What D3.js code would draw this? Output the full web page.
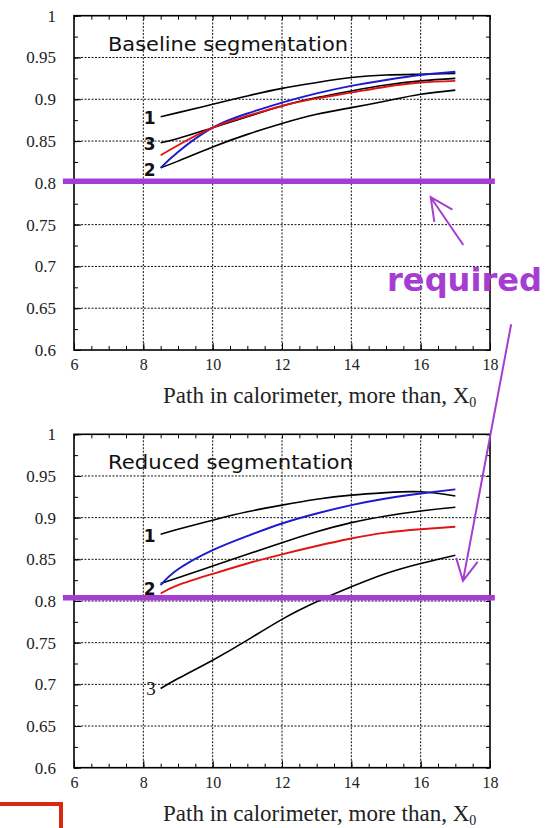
<!DOCTYPE html>
<html>
<head>
<meta charset="utf-8">
<script src="https://cdn.jsdelivr.net/npm/d3@7"></script>
<style>
body { margin: 0; background: #fff; }
svg { display: block; }
</style>
</head>
<body>
<div class="chart"></div>
<script>
var svgWidth = 548;
var svgHeight = 828;

// path in calorimeter, X0 (where each curve is sampled)
var pathX = [8.5, 9, 10, 11, 12, 13, 14, 15, 16, 17];

// Baseline segmentation
var baseBlack1 = [0.879, 0.884, 0.894, 0.904, 0.913, 0.920, 0.926, 0.929, 0.930, 0.931];
var baseBlack3 = [0.848, 0.853, 0.866, 0.879, 0.892, 0.902, 0.910, 0.917, 0.922, 0.925];
var baseBlack2 = [0.818, 0.826, 0.843, 0.858, 0.871, 0.882, 0.890, 0.898, 0.906, 0.911];
var baseBlue = [0.818, 0.837, 0.866, 0.883, 0.896, 0.907, 0.916, 0.923, 0.929, 0.933];
var baseRed = [0.833, 0.845, 0.866, 0.880, 0.892, 0.901, 0.908, 0.915, 0.920, 0.922];

// Reduced segmentation
var redBlack1 = [0.880, 0.886, 0.897, 0.907, 0.915, 0.922, 0.927, 0.930, 0.931, 0.926];
var redBlack2 = [0.821, 0.828, 0.842, 0.856, 0.870, 0.883, 0.894, 0.902, 0.908, 0.9125];
var redBlack3 = [0.695, 0.707, 0.729, 0.753, 0.778, 0.799, 0.817, 0.833, 0.845, 0.855];
var redBlue = [0.819, 0.838, 0.861, 0.878, 0.893, 0.905, 0.915, 0.923, 0.929, 0.934];
var redRed = [0.809, 0.819, 0.8325, 0.845, 0.856, 0.866, 0.875, 0.882, 0.886, 0.889];

var xTicks = [6, 8, 10, 12, 14, 16, 18];
var xTickLabels = ["6", "8", "10", "12", "14", "16", "18"];
var yTicks = [0.6, 0.65, 0.7, 0.75, 0.8, 0.85, 0.9, 0.95, 1];
var yTickLabels = ["0.6", "0.65", "0.7", "0.75", "0.8", "0.85", "0.9", "0.95", "1"];
var panelTitles = ["Baseline segmentation", "Reduced segmentation"];
var xLabel = "Path in calorimeter, more than, X";
var requiredLevel = [0.802, 0.804];
var requiredSpan = [5.68, 18.14];

var purple = "#a63dd2";

var svg = d3.select(".chart")
  .append("svg")
  .attr("width", svgWidth)
  .attr("height", svgHeight);

var x = d3.scaleLinear().domain([6, 18]).range([74, 490]);

var panels = [
  {
    top: 15.7, bottom: 350, title: panelTitles[0],
    series: [
      {values: baseBlack1, color: "#000", label: "1", dy: 1},
      {values: baseBlack3, color: "#000", label: "3", dy: 1},
      {values: baseBlack2, color: "#000", label: "2", dy: 2},
      {values: baseBlue, color: "#1a1ad0"},
      {values: baseRed, color: "#e01414"}
    ]
  },
  {
    top: 434.3, bottom: 767.7, title: panelTitles[1],
    series: [
      {values: redBlack1, color: "#000", label: "1", dy: 2},
      {values: redBlack2, color: "#000", label: "2", dy: 5},
      {values: redBlack3, color: "#000", label: "3", dy: 0, serif: true},
      {values: redBlue, color: "#1a1ad0"},
      {values: redRed, color: "#e01414"}
    ]
  }
];

var minorX = d3.range(6, 18.01, 0.5);
var minorY = d3.range(0.6, 1.001, 0.025);

function noDomain(g) { g.select(".domain").remove(); }

panels.forEach(function(p, i) {
  var y = d3.scaleLinear().domain([0.6, 1]).range([p.bottom, p.top]);
  p.y = y;
  var g = svg.append("g");

  // dotted grid
  g.append("g").selectAll("line")
    .data(xTicks.slice(1, -1))
    .enter().append("line")
    .attr("x1", d => x(d)).attr("x2", d => x(d))
    .attr("y1", y(0.6)).attr("y2", y(1))
    .attr("stroke", "#111").attr("stroke-width", 1)
    .attr("stroke-dasharray", "2,1.5");

  g.append("g").selectAll("line")
    .data(yTicks.slice(1, -1))
    .enter().append("line")
    .attr("x1", x(6)).attr("x2", x(18))
    .attr("y1", d => y(d)).attr("y2", d => y(d))
    .attr("stroke", "#111").attr("stroke-width", 1)
    .attr("stroke-dasharray", "2,1.5");

  // minor ticks, all four sides, pointing inward
  g.append("g")
    .attr("transform", `translate(0, ${y(0.6)})`)
    .call(d3.axisBottom(x).tickValues(minorX).tickSize(-4).tickFormat(""))
    .call(noDomain);
  g.append("g")
    .attr("transform", `translate(0, ${y(1)})`)
    .call(d3.axisTop(x).tickValues(minorX).tickSize(-4).tickFormat(""))
    .call(noDomain);
  g.append("g")
    .attr("transform", `translate(${x(6)}, 0)`)
    .call(d3.axisLeft(y).tickValues(minorY).tickSize(-4).tickFormat(""))
    .call(noDomain);
  g.append("g")
    .attr("transform", `translate(${x(18)}, 0)`)
    .call(d3.axisRight(y).tickValues(minorY).tickSize(-4).tickFormat(""))
    .call(noDomain);

  // labelled axes
  var xAxis = g.append("g")
    .attr("transform", `translate(0, ${y(0.6)})`)
    .call(d3.axisBottom(x).tickValues(xTicks).tickSize(-7).tickPadding(9)
      .tickFormat((d, k) => xTickLabels[k]))
    .call(noDomain);
  xAxis.selectAll("text")
    .attr("font-family", "Liberation Serif, serif")
    .attr("font-size", 16)
    .attr("fill", "#222");

  var yAxis = g.append("g")
    .attr("transform", `translate(${x(6)}, 0)`)
    .call(d3.axisLeft(y).tickValues(yTicks).tickSize(-7).tickPadding(18)
      .tickFormat((d, k) => yTickLabels[k]))
    .call(noDomain);
  yAxis.selectAll("text")
    .attr("font-family", "Liberation Serif, serif")
    .attr("font-size", 17)
    .attr("fill", "#222");

  // frame
  g.append("rect")
    .attr("x", x(6)).attr("y", y(1))
    .attr("width", x(18) - x(6)).attr("height", y(0.6) - y(1))
    .attr("fill", "none").attr("stroke", "#000").attr("stroke-width", 1.6);

  // panel title
  g.append("text")
    .attr("x", x(6) + 34).attr("y", y(1) + 35)
    .attr("font-family", "DejaVu Sans, sans-serif")
    .attr("font-size", 20)
    .attr("textLength", i === 0 ? 240 : 245)
    .attr("lengthAdjust", "spacingAndGlyphs")
    .attr("fill", "#111")
    .text(p.title);

  // curves
  var line = d3.line()
    .x((d, k) => x(pathX[k]))
    .y(d => y(d))
    .curve(d3.curveNatural);

  g.append("g").selectAll("path")
    .data(p.series)
    .enter().append("path")
    .attr("d", d => line(d.values))
    .attr("fill", "none")
    .attr("stroke", d => d.color)
    .attr("stroke-width", d => d.color === "#000" ? 1.6 : 1.9);

  g.append("g").selectAll("text")
    .data(p.series.filter(d => d.label))
    .enter().append("text")
    .attr("x", x(pathX[0]) - 5)
    .attr("y", d => y(d.values[0]) + d.dy)
    .attr("dy", "0.36em")
    .attr("text-anchor", "end")
    .attr("font-family", d => d.serif ? "Liberation Serif, serif" : "DejaVu Sans, sans-serif")
    .attr("font-size", d => d.serif ? 19 : 17)
    .attr("font-weight", d => d.serif ? "normal" : "bold")
    .attr("fill", "#111")
    .text(d => d.label);

  // x axis title
  var xt = g.append("text")
    .attr("x", 163)
    .attr("y", y(0.6) + 53)
    .attr("font-family", "Liberation Serif, serif")
    .attr("font-size", 23)
    .attr("fill", "#222");
  xt.append("tspan").text(xLabel);
  xt.append("tspan").attr("dy", 4).attr("font-size", 14).text("0");

  // required level
  g.append("line")
    .attr("x1", x(requiredSpan[0])).attr("x2", x(requiredSpan[1]))
    .attr("y1", y(requiredLevel[i])).attr("y2", y(requiredLevel[i]))
    .attr("stroke", purple).attr("stroke-width", 5.5);
});

// hand drawn annotation: "required" with two arrows
function arrow(tail, tip, len, ang) {
  var dx = tail[0] - tip[0], dy = tail[1] - tip[1];
  var a = Math.atan2(dy, dx);
  var a1 = a + ang * Math.PI / 180, a2 = a - ang * Math.PI / 180;
  return `M${tail[0]},${tail[1]}L${tip[0]},${tip[1]}` +
    `M${tip[0] + len * Math.cos(a1)},${tip[1] + len * Math.sin(a1)}L${tip[0]},${tip[1]}` +
    `L${tip[0] + len * Math.cos(a2)},${tip[1] + len * Math.sin(a2)}`;
}

var yTop = panels[0].y, yBot = panels[1].y;

svg.append("path")
  .attr("d", arrow([x(17.23), yTop(0.7257)], [x(16.29), yTop(0.7828)], 25, 26))
  .attr("fill", "none").attr("stroke", purple).attr("stroke-width", 2);

svg.append("path")
  .attr("d", arrow([x(18.61), yBot(1.132)], [x(17.22), yBot(0.8241)], 24, 27))
  .attr("fill", "none").attr("stroke", purple).attr("stroke-width", 2);

svg.append("text")
  .attr("x", x(15.03))
  .attr("y", yTop(0.671))
  .attr("font-family", "DejaVu Sans, sans-serif")
  .attr("font-weight", "bold")
  .attr("font-size", 32)
  .attr("textLength", 155)
  .attr("lengthAdjust", "spacingAndGlyphs")
  .attr("fill", purple)
  .text("required");

// red frame corner at bottom left
svg.append("path")
  .attr("d", "M0,804H61V828")
  .attr("fill", "none")
  .attr("stroke", "#d8290f")
  .attr("stroke-width", 4);
</script>
</body>
</html>
